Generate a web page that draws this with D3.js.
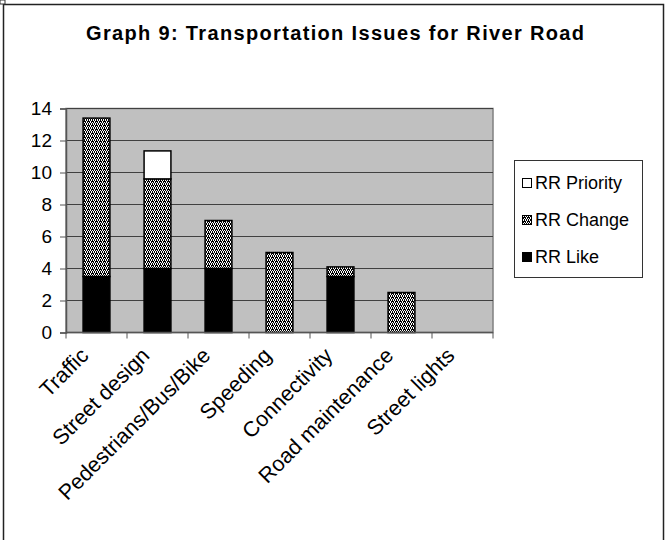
<!DOCTYPE html>
<html>
<head>
<meta charset="utf-8">
<script src="https://cdn.jsdelivr.net/npm/d3@7"></script>
<style>
  html, body { margin: 0; padding: 0; background: #fff; }
  svg { display: block; font-family: "Liberation Sans", Arial, sans-serif; }
</style>
</head>
<body>
<svg id="chart" width="666" height="540"></svg>
<script>
const categories = ["Traffic", "Street design", "Pedestrians/Bus/Bike", "Speeding", "Connectivity", "Road maintenance", "Street lights"];
const rrLike     = [3.5, 4, 4, 0, 3.5, 0, 0];
const rrChange   = [9.9, 5.6, 3, 5, 0.6, 2.5, 0];
const rrPriority = [0, 1.75, 0, 0, 0, 0, 0];
const seriesNames = ["RR Like", "RR Change", "RR Priority"];
const yTicks = [0, 2, 4, 6, 8, 10, 12, 14];
const title = "Graph 9: Transportation Issues for River Road";

const svg = d3.select("#chart");
const defs = svg.append("defs");
const pat = defs.append("pattern").attr("id", "hatch")
  .attr("patternUnits", "userSpaceOnUse").attr("width", 4).attr("height", 4);
pat.append("rect").attr("width", 4).attr("height", 4).attr("fill", "#fff");
[[0,0],[2,0],[1,1],[3,1],[1,2],[3,2],[0,3],[2,3],[0,1]].forEach(([x,y]) =>
  pat.append("rect").attr("x", x).attr("y", y).attr("width", 1).attr("height", 1).attr("fill", "#000"));

const fills = { "RR Like": "#000", "RR Change": "url(#hatch)", "RR Priority": "#fff" };

// outer frame
svg.append("rect").attr("x", 3.5).attr("y", 4.5).attr("width", 660).attr("height", 560)
  .attr("fill", "none").attr("stroke", "#222").attr("stroke-width", 1.5);
svg.append("rect").attr("x", 0).attr("y", 0).attr("width", 5).attr("height", 4)
  .attr("fill", "#fff").attr("stroke", "#333").attr("stroke-width", 1);

svg.append("text").attr("x", 335).attr("y", 40).attr("text-anchor", "middle")
  .attr("font-size", 20).attr("font-weight", "bold")
  .attr("textLength", 498).attr("lengthAdjust", "spacing").text(title);

const x0 = 66, x1 = 493, yTop = 108.5, yBot = 332.5;
const x = d3.scaleBand().domain(categories).range([x0, x1]).paddingInner(0.56).paddingOuter(0.28);
const xTick = d3.scaleBand().domain(categories).range([x0, x1]);
const y = d3.scaleLinear().domain([0, 14]).range([yBot, yTop]);

// plot bg
svg.append("rect").attr("x", x0).attr("y", yTop).attr("width", x1 - x0).attr("height", yBot - yTop)
  .attr("fill", "#c0c0c0").attr("stroke", "#808080").attr("stroke-width", 1.5);

// gridlines
svg.append("g").selectAll("line").data(yTicks.filter(d => d > 0)).join("line")
  .attr("x1", x0).attr("x2", x1).attr("y1", d => y(d)).attr("y2", d => y(d))
  .attr("stroke", "#404040").attr("stroke-width", 1.2);

// y axis
const yAxis = svg.append("g").attr("transform", `translate(${x0},0)`)
  .call(d3.axisLeft(y).tickValues(yTicks).tickSize(6).tickPadding(8));
yAxis.select(".domain").attr("stroke", "#555").attr("stroke-width", 1.5);
yAxis.selectAll(".tick line").attr("stroke", "#555");
yAxis.selectAll("text").attr("font-size", 19).attr("fill", "#000")
  .attr("font-family", "Liberation Sans, Arial, sans-serif");

// stacked bars
const rows = categories.map((c, i) => ({ cat: c, "RR Like": rrLike[i], "RR Change": rrChange[i], "RR Priority": rrPriority[i] }));
const stack = d3.stack().keys(seriesNames)(rows);
stack.forEach(s => {
  svg.append("g").selectAll("rect").data(s.filter(d => d[1] - d[0] > 0)).join("rect")
    .attr("x", d => x(d.data.cat)).attr("width", x.bandwidth())
    .attr("y", d => y(d[1])).attr("height", d => y(d[0]) - y(d[1]))
    .attr("fill", fills[s.key]).attr("stroke", "#000").attr("stroke-width", 1.5);
});

// x axis
const xAxis = svg.append("g").attr("transform", `translate(0,${yBot})`);
xAxis.append("line").attr("x1", x0).attr("x2", x1).attr("stroke", "#555").attr("stroke-width", 1.5);
xAxis.selectAll("line.tk").data(categories.concat(["__end"])).join("line").attr("class", "tk")
  .attr("x1", (d, i) => i < categories.length ? xTick(d) : x1)
  .attr("x2", (d, i) => i < categories.length ? xTick(d) : x1)
  .attr("y1", 0).attr("y2", 6).attr("stroke", "#555");
xAxis.selectAll("text").data(categories).join("text")
  .attr("transform", d => `translate(${xTick(d) + xTick.bandwidth() / 2 - 12},${19}) rotate(-45)`)
  .attr("text-anchor", "end").attr("font-size", 21.5).attr("dy", "0.35em").text(d => d);

// legend
const lg = svg.append("g");
lg.append("rect").attr("x", 514.5).attr("y", 160.5).attr("width", 128).attr("height", 117)
  .attr("fill", "#fff").attr("stroke", "#333").attr("stroke-width", 1);
const legendOrder = ["RR Priority", "RR Change", "RR Like"];
legendOrder.forEach((k, i) => {
  const cy = 183 + i * 37;
  lg.append("rect").attr("x", 522.5).attr("y", cy - 4.5).attr("width", 9).attr("height", 9)
    .attr("fill", fills[k]).attr("stroke", "#000").attr("stroke-width", 1);
  lg.append("text").attr("x", 535).attr("y", cy).attr("dy", "0.35em").attr("font-size", 18).text(k);
});
</script>
</body>
</html>
